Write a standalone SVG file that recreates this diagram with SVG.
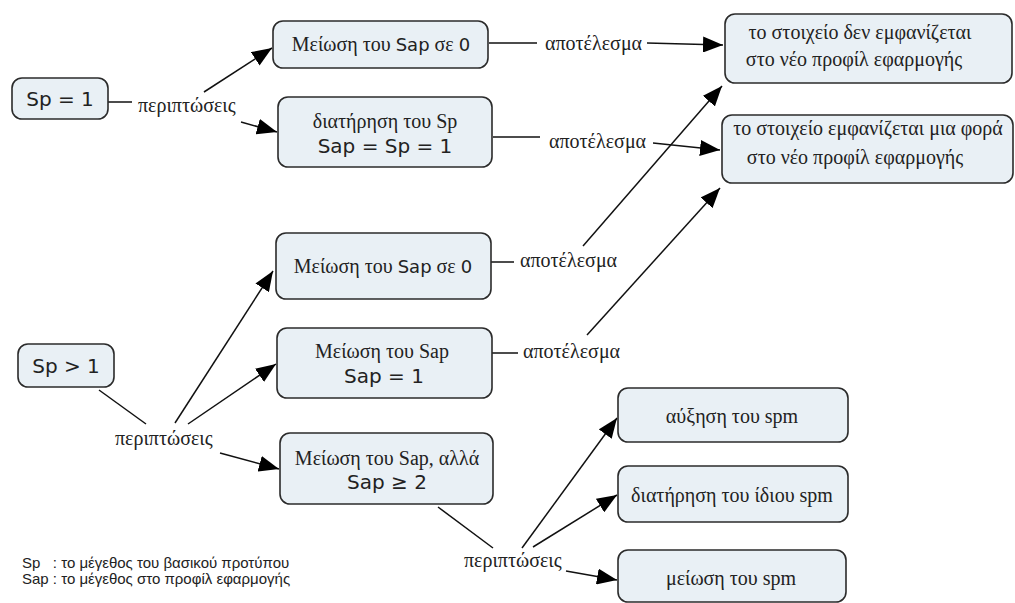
<svg xmlns="http://www.w3.org/2000/svg" width="1015" height="603" viewBox="0 0 1015 603">
<style>
.box{fill:#e9f0f5;stroke:#2b2b2b;stroke-width:1.6}
.sr{font-family:"Liberation Serif","DejaVu Serif",serif;font-size:20px;fill:#222}
.ss{font-family:"DejaVu Sans","Liberation Sans",sans-serif;fill:#222}
.lab{font-family:"Liberation Serif","DejaVu Serif",serif;font-size:20px;fill:#222}
.leg{font-family:"Liberation Sans","DejaVu Sans",sans-serif;font-size:15px;fill:#222}
.c line{stroke:#111;stroke-width:1.5}
.arr{marker-end:url(#ah)}
</style>
<defs>
<marker id="ah" viewBox="0 0 20 16" refX="20" refY="8" markerWidth="20" markerHeight="16" orient="auto" markerUnits="userSpaceOnUse"><path d="M0,0 L20,8 L0,16 z" fill="#000"/></marker>
</defs>
<rect width="1015" height="603" fill="#fff"/>
<g class="c" id="connectors">
<line x1="108" y1="102" x2="132" y2="102"/>
<line class="arr" x1="204" y1="92" x2="272" y2="48"/>
<line class="arr" x1="241" y1="122" x2="277" y2="132"/>
<line x1="489" y1="43" x2="537" y2="43"/>
<line class="arr" x1="647" y1="43" x2="723" y2="45"/>
<line x1="493" y1="137" x2="540" y2="137"/>
<line class="arr" x1="653" y1="143" x2="720" y2="150"/>
<line x1="491" y1="262" x2="514" y2="262"/>
<line class="arr" x1="583" y1="246" x2="722" y2="86"/>
<line x1="492" y1="353" x2="518" y2="353"/>
<line class="arr" x1="587" y1="335" x2="720" y2="188"/>
<line x1="99" y1="390" x2="146" y2="424"/>
<line class="arr" x1="175" y1="423" x2="273" y2="271"/>
<line class="arr" x1="188" y1="424" x2="276" y2="364"/>
<line class="arr" x1="220" y1="453" x2="279" y2="469"/>
<line x1="438" y1="507" x2="493" y2="548"/>
<line class="arr" x1="522" y1="548" x2="617" y2="418"/>
<line class="arr" x1="533" y1="547" x2="617" y2="495"/>
<line class="arr" x1="566" y1="571" x2="617" y2="580"/>
</g>
<g id="labels">
<text class="lab" x="138" y="112">περιπτώσεις</text>
<text class="lab" x="545" y="50">αποτέλεσμα</text>
<text class="lab" x="549" y="148">αποτέλεσμα</text>
<text class="lab" x="520" y="267">αποτέλεσμα</text>
<text class="lab" x="523" y="358">αποτέλεσμα</text>
<text class="lab" x="115" y="445">περιπτώσεις</text>
<text class="lab" x="464" y="567">περιπτώσεις</text>
</g>
<g id="n_sp1"><rect class="box" x="12" y="78" width="96" height="41" rx="10"/><text class="ss" font-size="20" x="60" y="106" text-anchor="middle">Sp = 1</text></g>
<g id="n_red0a"><rect class="box" x="273" y="21" width="215" height="47" rx="10"/><text class="sr" x="381" y="51" text-anchor="middle">Μείωση του <tspan class="ss" font-size="18">Sap</tspan> σε <tspan class="ss" font-size="18">0</tspan></text></g>
<g id="n_keep"><rect class="box" x="278" y="97" width="214" height="70" rx="10"/><text class="sr" x="385" y="128" text-anchor="middle">διατήρηση του Sp</text><text class="ss" font-size="20" x="385" y="153" text-anchor="middle">Sap = Sp = 1</text></g>
<g id="n_notshown"><rect class="box" x="725" y="14" width="287" height="69" rx="10"/><text class="sr" x="860" y="39" text-anchor="middle">το στοιχείο δεν εμφανίζεται</text><text class="sr" x="854" y="66" text-anchor="middle">στο νέο προφίλ εφαρμογής</text></g>
<g id="n_once"><rect class="box" x="722" y="115" width="291" height="68" rx="10"/><text class="sr" x="868" y="135" text-anchor="middle">το στοιχείο εμφανίζεται μια φορά</text><text class="sr" x="855" y="164" text-anchor="middle">στο νέο προφίλ εφαρμογής</text></g>
<g id="n_red0b"><rect class="box" x="276" y="233" width="215" height="66" rx="10"/><text class="sr" x="383" y="273" text-anchor="middle">Μείωση του <tspan class="ss" font-size="18">Sap</tspan> σε <tspan class="ss" font-size="18">0</tspan></text></g>
<g id="n_red1"><rect class="box" x="277" y="328" width="215" height="70" rx="10"/><text class="sr" x="382" y="358" text-anchor="middle">Μείωση του Sap</text><text class="ss" font-size="20" x="384" y="383" text-anchor="middle">Sap = 1</text></g>
<g id="n_spgt1"><rect class="box" x="18" y="344" width="96" height="43" rx="10"/><text class="ss" font-size="20" x="66" y="373" text-anchor="middle">Sp &gt; 1</text></g>
<g id="n_red2"><rect class="box" x="280" y="433" width="213" height="71" rx="10"/><text class="sr" x="387" y="465" text-anchor="middle">Μείωση του Sap, αλλά</text><text class="ss" font-size="20" x="387" y="489" text-anchor="middle">Sap ≥ 2</text></g>
<g id="n_inc"><rect class="box" x="618" y="388" width="230" height="54" rx="10"/><text class="sr" x="732" y="423" text-anchor="middle">αύξηση του spm</text></g>
<g id="n_same"><rect class="box" x="618" y="466" width="230" height="56" rx="10"/><text class="sr" x="732" y="502" text-anchor="middle">διατήρηση του ίδιου spm</text></g>
<g id="n_dec"><rect class="box" x="618" y="550" width="228" height="52" rx="10"/><text class="sr" x="731" y="585" text-anchor="middle">μείωση του spm</text></g>
<g id="legend">
<text class="leg" x="22" y="568" xml:space="preserve">Sp   : το μέγεθος του βασικού προτύπου</text>
<text class="leg" x="22" y="584">Sap : το μέγεθος στο προφίλ εφαρμογής</text>
</g>
</svg>
